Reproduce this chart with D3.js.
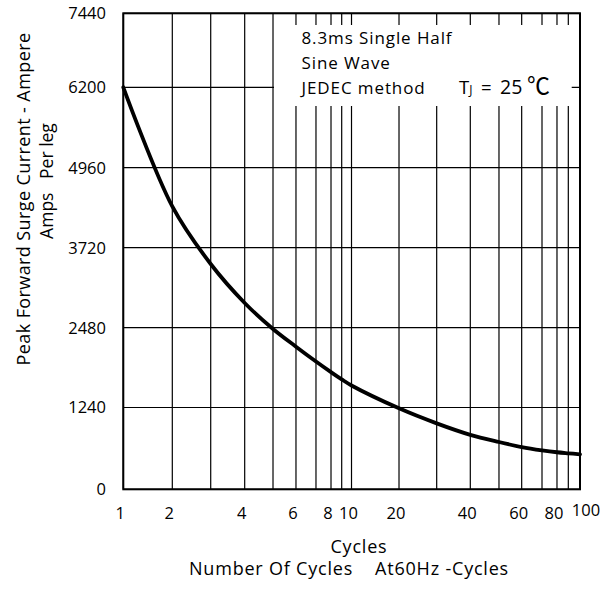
<!DOCTYPE html>
<html><head><meta charset="utf-8">
<script src="https://cdn.jsdelivr.net/npm/d3@7"></script>
<style>body{margin:0;background:#fff}text{font-family:"Open Sans",sans-serif;fill:#000;white-space:pre}</style>
</head><body><svg id="c" width="605" height="592"></svg>
<script>
// ---- data ----
const cycles = [1,2,3,4,5,6,7,8,9,10,20,30,40,50,60,70,80,90,100];
const surgeAmps = [6200,4360,3467,2863,2460,2185,1955,1790,1677,1582,1228,1000,826,717,641,591,562,546,531];
const yTicks = [0,1240,2480,3720,4960,6200,7440];
const xTickLabels = [1,2,4,6,8,10,20,40,60,80,100];
const boxLines = ["8.3ms Single Half","Sine Wave","JEDEC method"];
const yTitle = "Peak Forward Surge Current - Ampere";
const yTitle2 = "Amps   Per leg";
const xTitle = "Cycles";
const xTitle2 = "Number Of Cycles    At60Hz -Cycles";
// warp of the printed chart paper's grid (fraction of plot size per grid value)
const xWarp = [0,.1073,.1914,.2658,.3278,.3781,.4219,.4548,.4782,.4997,.6037,.6862,.7598,.8226,.8723,.9168,.9496,.9744,1];
const yWarp = [0,.1718,.3395,.5076,.6756,.8445,1];

// ---- layout ----
const L = 123.3, T = 13.3, W = 456.7, H = 476;
const svg = d3.select("#c");
const x = d3.scaleLinear().domain(cycles).range(xWarp.map(f => L + f*W));
const y = d3.scaleLinear().domain(yTicks).range(yWarp.map(f => T + H - f*H));

const g = svg.append("g");
// vertical grid
g.selectAll("line.v").data(cycles).join("line").attr("class","v")
  .attr("x1", d => x(d)).attr("x2", d => x(d)).attr("y1", T).attr("y2", T+H)
  .attr("stroke","#000").attr("stroke-width",1.2);
// horizontal grid
g.selectAll("line.h").data(yTicks).join("line").attr("class","h")
  .attr("x1", L).attr("x2", L+W).attr("y1", d => y(d)).attr("y2", d => y(d))
  .attr("stroke","#000").attr("stroke-width",1.2);

// annotation box (white area covering grid)
const bx0 = x(5) + 1, bx1 = L + W - 8.3, by0 = 25, by1 = 106;
g.append("rect").attr("x", bx0).attr("y", by0).attr("width", bx1-bx0).attr("height", by1-by0).attr("fill","#fff");

// frame
g.append("rect").attr("x", L).attr("y", T).attr("width", W).attr("height", H)
  .attr("fill","none").attr("stroke","#000").attr("stroke-width",2);

// curve
const line = d3.line().x((d,i) => x(cycles[i])).y(d => y(d)).curve(d3.curveCatmullRom.alpha(0.5));
g.append("path").attr("d", line(surgeAmps)).attr("fill","none")
  .attr("stroke","#000").attr("stroke-width",3.8).attr("stroke-linecap","round");

// y tick labels
g.selectAll("text.yt").data(yTicks).join("text").attr("class","yt")
  .attr("x", 106).attr("y", d => y(d)).attr("dy","0.36em").attr("text-anchor","end")
  .attr("font-size",16.5).text(d => d);
// x tick labels
g.selectAll("text.xt").data(xTickLabels).join("text").attr("class","xt")
  .attr("x", (d,i) => x(d) + (i === xTickLabels.length-1 ? 6 : -3))
  .attr("y", (d,i) => i === xTickLabels.length-1 ? 516 : 519)
  .attr("text-anchor","middle").attr("font-size",16.5).text(d => d);

// box text
boxLines.forEach((t,i) => {
  g.append("text").attr("x", 301.5).attr("y", 44 + i*25).attr("font-size",17).attr("letter-spacing",0.9).text(t);
});
const tj = g.append("text").attr("x", 459).attr("y", 94).attr("font-size",18.5);
tj.append("tspan").text("T");
tj.append("tspan").attr("font-size",12).text("J");
tj.append("tspan").attr("x", 481).text("=");
tj.append("tspan").attr("x", 500).attr("font-size",19.5).text("25");
tj.append("tspan").attr("x", 527).attr("font-size",23).attr("style","font-family:'Noto Sans CJK SC'").text("℃");

// axis titles
g.append("text").attr("transform","translate(30,199) rotate(-90)").attr("text-anchor","middle")
  .attr("font-size",18).attr("letter-spacing",0.4).text(yTitle);
g.append("text").attr("transform","translate(53,181) rotate(-90)").attr("text-anchor","middle")
  .attr("font-size",17.5).text(yTitle2);
g.append("text").attr("x", 359).attr("y", 553).attr("text-anchor","middle").attr("font-size",18).attr("letter-spacing",0.8).text(xTitle);
g.append("text").attr("x", 349).attr("y", 575).attr("text-anchor","middle").attr("font-size",18).attr("letter-spacing",0.8).text(xTitle2);
</script></body></html>
